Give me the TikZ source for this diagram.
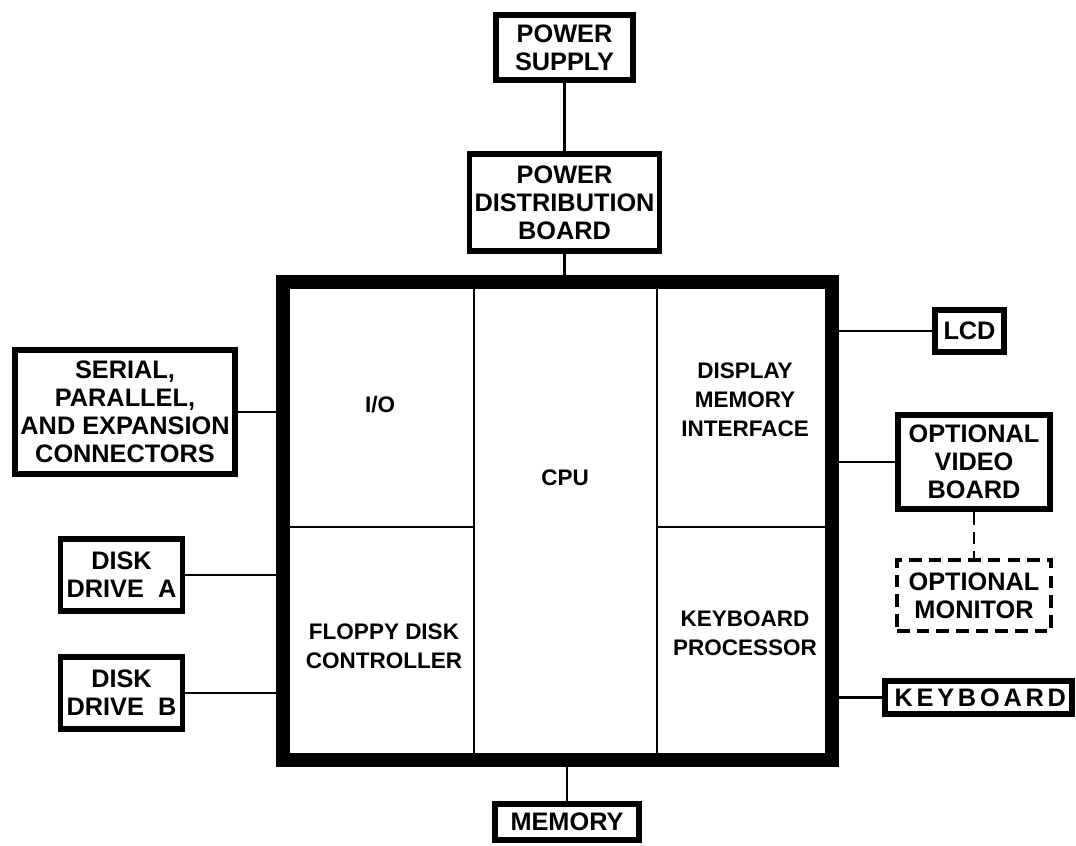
\documentclass[tikz,border=0pt]{standalone}
\usepackage{fontspec}
\setmainfont{Liberation Sans}
\begin{document}
\begin{tikzpicture}[x=0.025cm, y=-0.025cm,
	unit/.style={draw, line width=4pt, align=center, inner sep=0pt, font=\bfseries\fontsize{18}{20}\selectfont},
	optunit/.style={unit, line width=2.8pt, dash pattern=on 9pt off 5pt},
	wire/.style={line width=1.9pt},
	divider/.style={line width=1.6pt},
	part/.style={align=center, font=\bfseries\fontsize{16}{20.5}\selectfont}]
	\useasboundingbox (0,0) rectangle (1076,846);
	\node[draw, line width=10pt, minimum width=13.725cm, minimum height=11.95cm, inner sep=0pt] (board) at (557.5,521) {};
	\draw[divider] (474,282) -- (474,760);
	\draw[divider] (657,282) -- (657,760);
	\draw[divider] (283,527) -- (474,527);
	\draw[divider] (657,527) -- (832,527);
	\node[part] (io) at (380,405) {I/O};
	\node[part] (cpu) at (565,478) {CPU};
	\node[part] (dmi) at (745,400) {DISPLAY\\MEMORY\\INTERFACE};
	\node[part] (fdc) at (384,646) {FLOPPY DISK\\CONTROLLER};
	\node[part] (kbp) at (745,633) {KEYBOARD\\PROCESSOR};
	\node[unit, minimum width=3.41cm, minimum height=1.64cm] (psu) at (564.5,47.5) {POWER\\SUPPLY};
	\node[unit, minimum width=4.74cm, minimum height=2.43cm] (pdb) at (564.5,202.5) {POWER\\DISTRIBUTION\\BOARD};
	\node[unit, minimum width=5.51cm, minimum height=3.11cm] (ports) at (125,412) {SERIAL,\\PARALLEL,\\AND EXPANSION\\CONNECTORS};
	\node[unit, minimum width=3.04cm, minimum height=1.81cm] (diska) at (121.5,575) {DISK\\DRIVE\ \ A};
	\node[unit, minimum width=3.04cm, minimum height=1.81cm] (diskb) at (121.5,693) {DISK\\DRIVE\ \ B};
	\node[unit, minimum width=1.73cm, minimum height=1.06cm] (lcd) at (969.5,331) {LCD};
	\node[unit, minimum width=3.81cm, minimum height=2.36cm] (video) at (974,462) {OPTIONAL\\VIDEO\\BOARD};
	\node[optunit, minimum width=3.85cm, minimum height=1.775cm] (monitor) at (974,595.5) {OPTIONAL\\MONITOR};
	\node[unit, minimum width=4.685cm, minimum height=0.835cm] (kbd) at (978.5,697.5) {\addfontfeature{LetterSpace=15}KEYBOARD\kern-2.5pt};
	\node[unit, minimum width=3.61cm, minimum height=0.91cm] (mem) at (567,822) {MEMORY};
	\draw[wire] (psu) -- (pdb);
	\draw[wire] (pdb.south) -- (pdb.south |- board.north);
	\draw[wire] (mem.north) -- (mem.north |- board.south);
	\draw[wire] (ports.east) -- (ports.east -| board.west);
	\draw[wire] (diska.east) -- (diska.east -| board.west);
	\draw[wire] (diskb.east) -- (diskb.east -| board.west);
	\draw[wire] (lcd.west) -- (lcd.west -| board.east);
	\draw[wire] (video.west) -- (video.west -| board.east);
	\draw[wire] (kbd.west) -- (kbd.west -| board.east);
	\draw[wire, dash pattern=on 9pt off 5pt] (video.south) -- (monitor.north);
\end{tikzpicture}
\end{document}
